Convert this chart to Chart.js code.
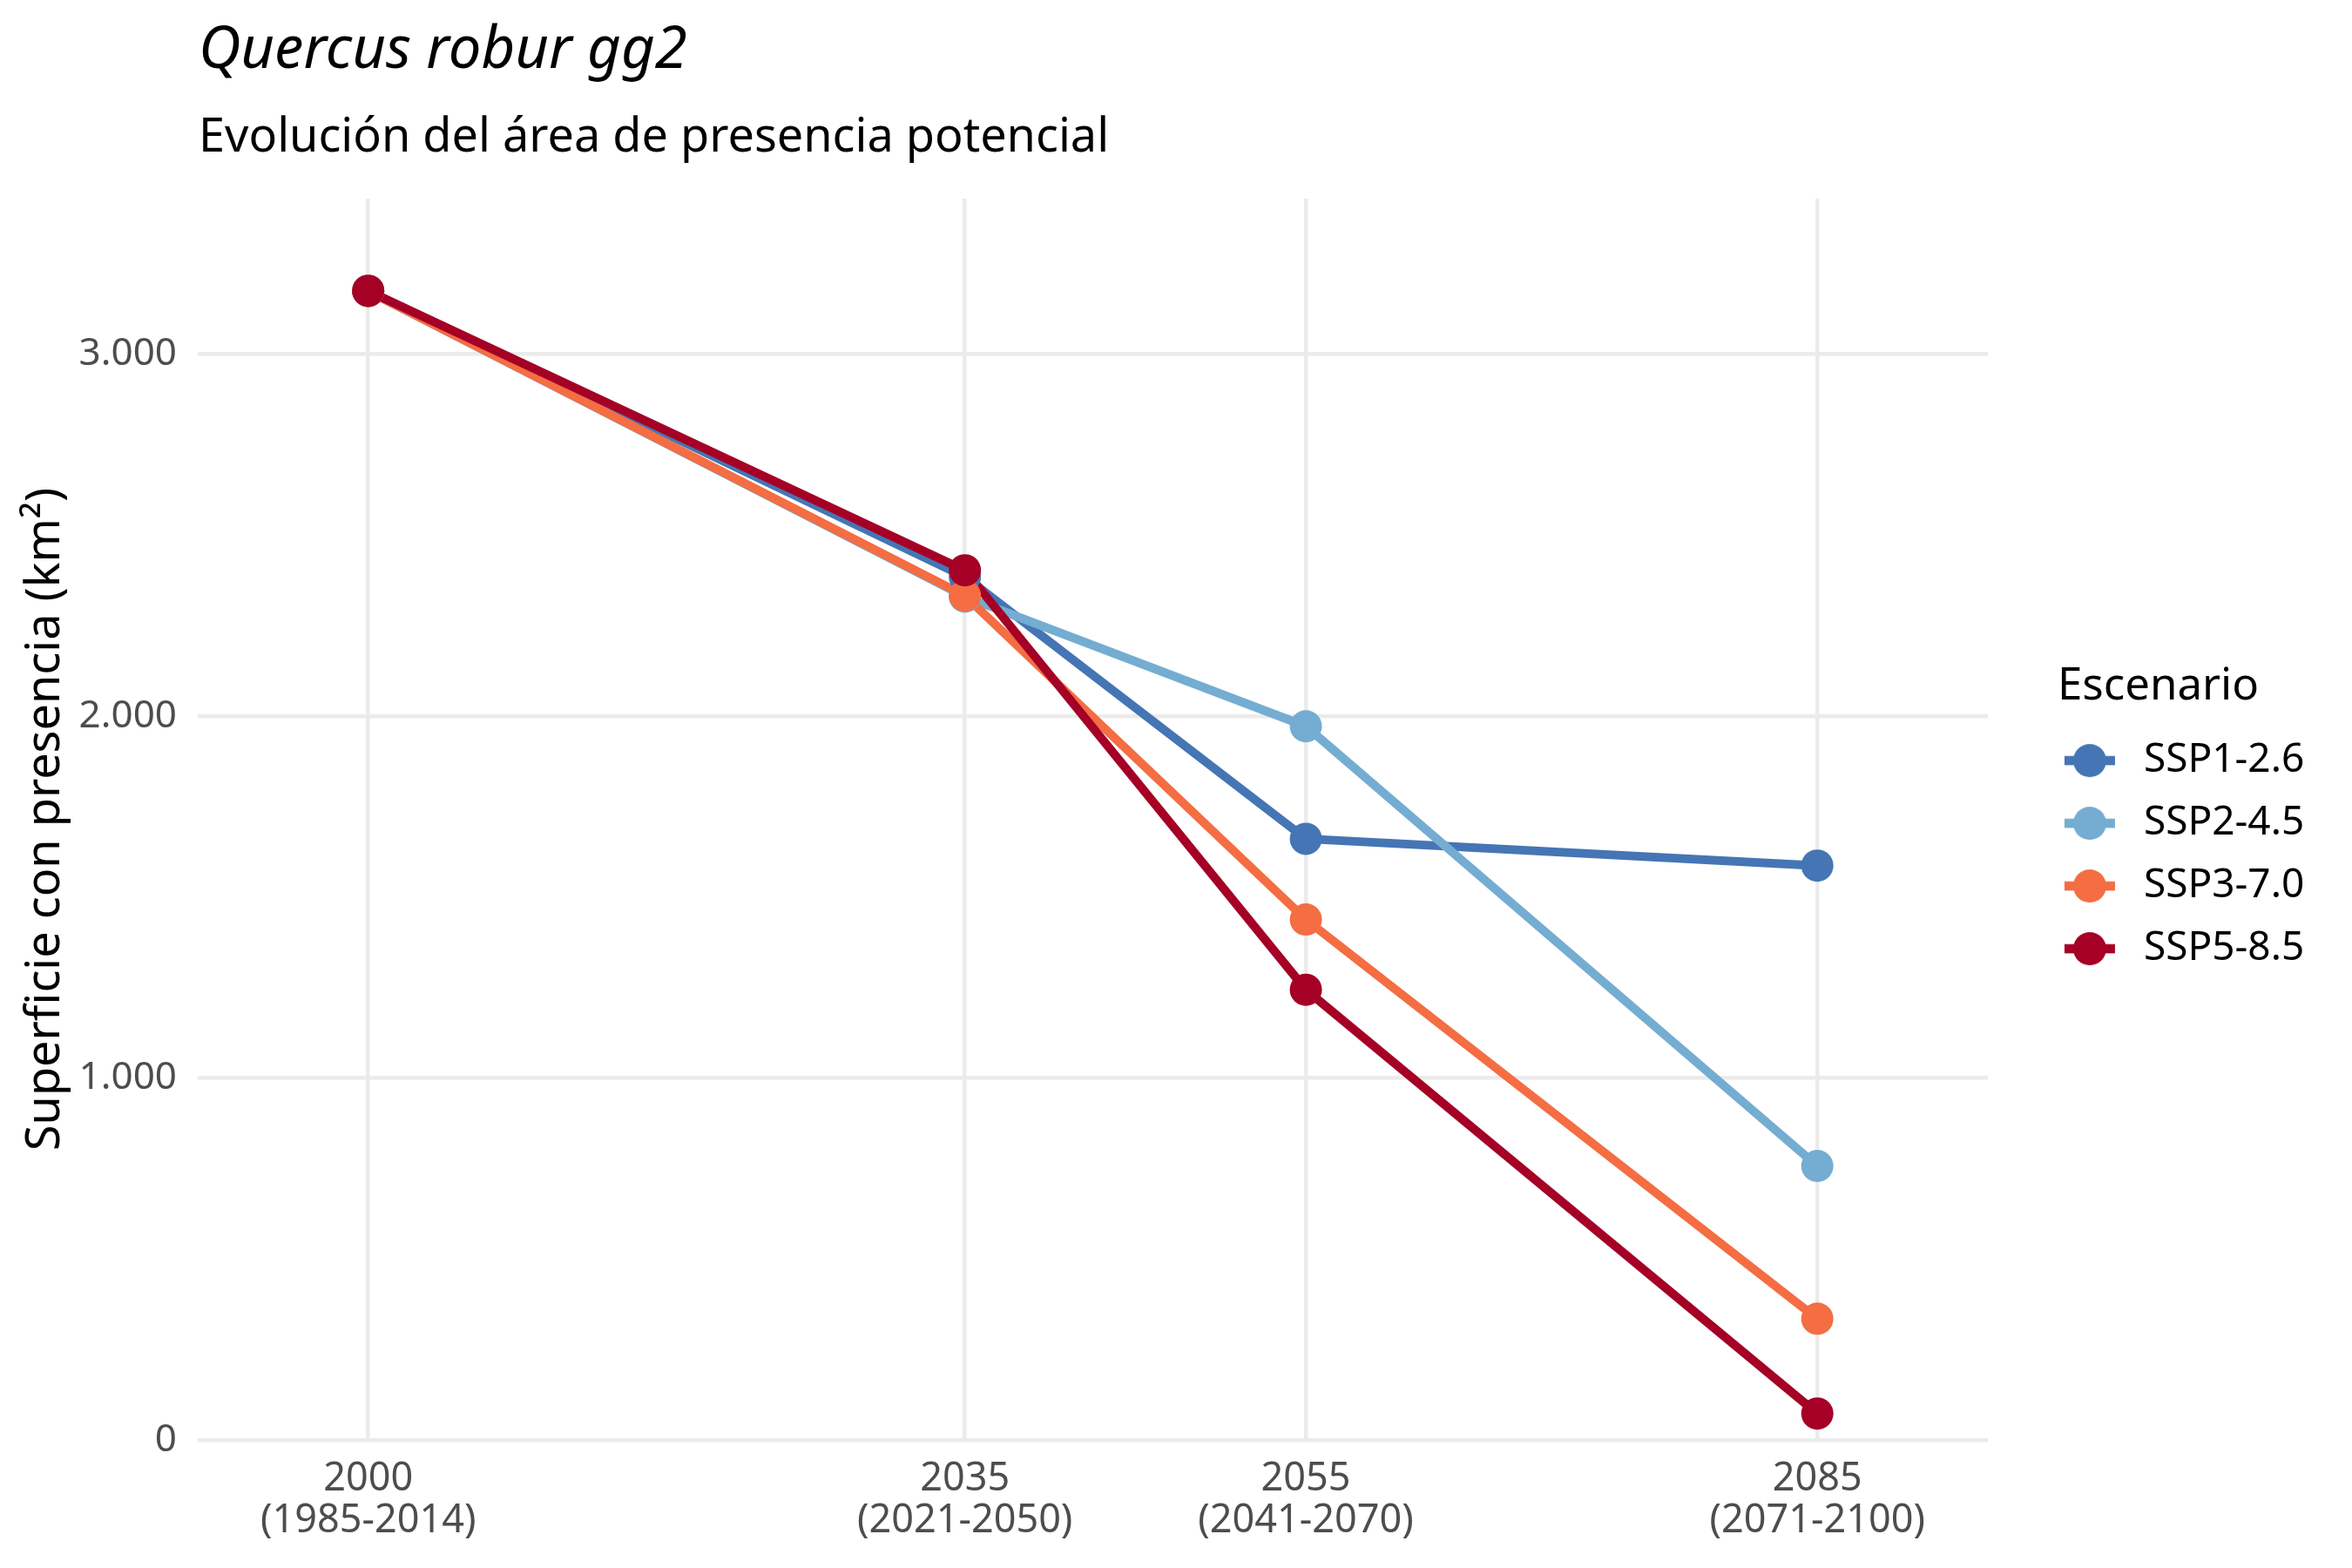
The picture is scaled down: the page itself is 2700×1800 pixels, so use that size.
<!DOCTYPE html>
<html lang="es">
<head>
<meta charset="utf-8">
<title>Quercus robur gg2</title>
<script src="https://cdn.jsdelivr.net/npm/chart.js@4.4.1/dist/chart.umd.min.js"></script>
<style>
  html, body { margin: 0; padding: 0; background: #ffffff; }
  #lienzo { position: relative; width: 2700px; height: 1800px; }
  #grafico { position: absolute; left: 0; top: 0; width: 2700px; height: 1800px; }
  .titulo, .subtitulo {
    position: absolute; left: 228px; margin: 0; line-height: 1;
    white-space: nowrap; color: #000; font-family: 'Noto Sans', sans-serif;
  }
  .titulo { top: 19px; font-size: 67px; font-style: italic; }
  .subtitulo { top: 126px; font-size: 54px; }
</style>
</head>
<body>
<div id="lienzo">
  <canvas id="grafico" width="2700" height="1800"></canvas>
  <div class="titulo">Quercus robur gg2</div>
  <div class="subtitulo">Evolución del área de presencia potencial</div>
</div>
<script>
// datos (km2)
const anios = [2000, 2035, 2055, 2085];
const periodos = ['(1985-2014)', '(2021-2050)', '(2041-2070)', '(2071-2100)'];
const escenarios = ['SSP1-2.6', 'SSP2-4.5', 'SSP3-7.0', 'SSP5-8.5'];
const ssp126 = [3175, 2385, 1661, 1587];
const ssp245 = [3175, 2330, 1972, 757];
const ssp370 = [3175, 2333, 1438, 335];
const ssp585 = [3175, 2403, 1244, 73];
const ticksY = [0, 1000, 2000, 3000];

const colores = ['#4575B4', '#74ADD1', '#F46D43', '#A50026'];
const series = [ssp126, ssp245, ssp370, ssp585];

Chart.defaults.font.family = "'Noto Sans', sans-serif";

// separador de miles con punto: 3000 -> 3.000
function miles(v) {
  return String(v).replace(/\B(?=(\d{3})+(?!\d))/g, '.');
}

// clave de la leyenda: linea + punto, como en ggplot
function claveLeyenda(color) {
  const c = document.createElement('canvas');
  c.width = 100; c.height = 40;
  const g = c.getContext('2d');
  const cx = 50 - 14;
  g.fillStyle = color;
  g.fillRect(cx - 29, 20 - 5.3, 58, 10.6);
  g.beginPath();
  g.arc(cx, 20, 19, 0, Math.PI * 2);
  g.fill();
  return c;
}
const claves = colores.map(claveLeyenda);

const puntos = s => anios.map((a, j) => ({ x: a, y: s[j] }));

// primero todas las lineas, despues todos los puntos encima
const lineas = series.map((s, i) => ({
  label: escenarios[i],
  data: puntos(s),
  borderColor: colores[i],
  backgroundColor: colores[i],
  borderWidth: 10,
  pointRadius: 0,
  tension: 0,
  clip: false,
  order: 8 - i
}));
const marcas = series.map((s, i) => ({
  label: escenarios[i] + ' puntos',
  data: puntos(s),
  showLine: false,
  backgroundColor: colores[i],
  borderColor: colores[i],
  pointRadius: 18.5,
  pointBorderWidth: 0,
  clip: false,
  order: 4 - i
}));

new Chart(document.getElementById('grafico'), {
  type: 'line',
  data: { datasets: lineas.concat(marcas) },
  options: {
    responsive: false,
    devicePixelRatio: 1,
    animation: false,
    events: [],
    layout: { padding: { top: 228, right: 44.7, bottom: 0, left: 0 } },
    scales: {
      x: {
        type: 'linear',
        min: 1990,
        max: 2095,
        afterBuildTicks: s => { s.ticks = anios.map(v => ({ value: v })); },
        afterFit: s => { s.height = 147; },
        grid: { color: '#EBEBEB', lineWidth: 4.5, drawTicks: false },
        border: { display: false },
        ticks: {
          autoSkip: false,
          maxRotation: 0,
          padding: 21,
          color: '#4D4D4D',
          font: { size: 45, lineHeight: 1.075 },
          callback: v => [String(v), periodos[anios.indexOf(v)]]
        }
      },
      y: {
        min: 0,
        max: 3430,
        afterBuildTicks: s => { s.ticks = ticksY.map(v => ({ value: v })); },
        afterFit: s => { s.width = 227; },
        grid: { color: '#EBEBEB', lineWidth: 4.5, drawTicks: false },
        border: { display: false },
        ticks: {
          padding: 24,
          color: '#4D4D4D',
          font: { size: 44 },
          callback: v => miles(v)
        },
        title: {
          display: true,
          text: 'Superficie con presencia (km²)',
          color: '#000',
          font: { size: 54 },
          padding: { top: 20, bottom: 0 }
        }
      },
      // eje vacio que separa el panel de la leyenda
      hueco: {
        type: 'linear',
        position: 'right',
        grid: { display: false },
        border: { display: false },
        ticks: { display: false },
        afterFit: s => { s.width = 80; }
      }
    },
    plugins: {
      tooltip: { enabled: false },
      legend: {
        position: 'right',
        align: 'center',
        fullSize: false,
        title: {
          display: true,
          text: 'Escenario',
          color: '#000',
          position: 'start',
          font: { size: 51 },
          padding: { top: 20, bottom: 0 }
        },
        labels: {
          usePointStyle: true,
          pointStyleWidth: 50,
          padding: 26,
          color: '#000',
          font: { size: 46 },
          filter: item => item.datasetIndex < 4,
          sort: (a, b) => a.datasetIndex - b.datasetIndex,
          generateLabels: chart => {
            const base = Chart.defaults.plugins.legend.labels.generateLabels(chart);
            return base.map(it => Object.assign(it, { pointStyle: claves[it.datasetIndex % 4] }));
          }
        }
      }
    }
  }
});
</script>
</body>
</html>
